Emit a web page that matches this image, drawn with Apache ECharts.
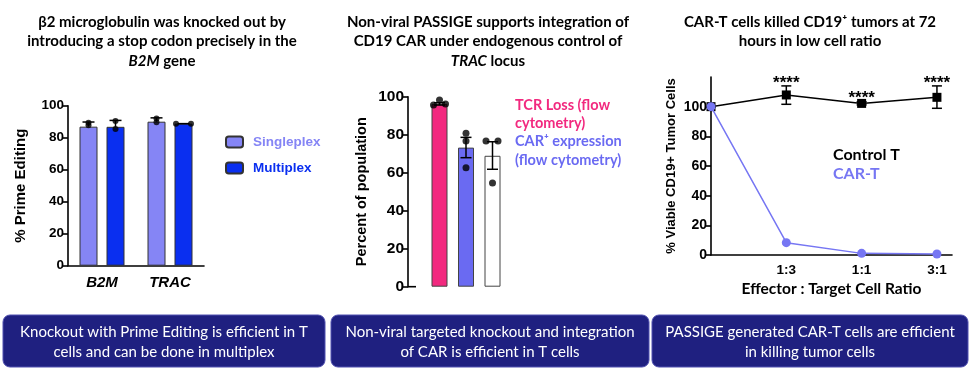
<!DOCTYPE html>
<html><head><meta charset="utf-8">
<script src="https://cdn.jsdelivr.net/npm/echarts@6/dist/echarts.min.js"></script>
<style>html,body{margin:0;padding:0;background:#fff}#c{width:975px;height:372px}</style>
</head><body><div id="c"></div>
<script>
// ---------- data ----------
const editCategories = ['B2M', 'TRAC'];
const singleplexMean = [86.9, 90.0];
const singleplexErrTop = [89.8, 92.4];
const singleplexPoints = [[89.3, 87.8], [92.0, 89.6]];
const multiplexMean = [86.8, 88.8];
const multiplexErrTop = [90.8, 88.8];
const multiplexPoints = [[90.5, 85.4], [88.7, 88.7]];

const popCategories = ['TCR Loss', 'CAR+ expression', 'Control'];
const popMean = [96.2, 73.2, 68.9];
const popErrLow = [95.6, 67.9, 61.8];
const popErrHigh = [96.8, 78.6, 76.3];
const popPoints = [[95.6, 98.3, 96.2], [80.7, 76.7, 62.6], [76.7, 76.7, 54.6]];

const ratioX = [0, 1, 2, 3];
const ratioLabels = ['', '1:3', '1:1', '3:1'];
const controlT = [100, 107.9, 102.2, 106.3];
const controlErrLow = [100, 101.6, 101.2, 98.9];
const controlErrHigh = [100, 114.0, 103.3, 114.0];
const carT = [100, 8.3, 1.1, 0.7];
const significance = ['', '****', '****', '****'];

// ---------- styling ----------
const AX = 'Liberation Sans';
const TF = 'Lato';
const cSingle = '#8585f5', cMulti = '#0a2ff0';
const cPink = '#f2297f', cBlue = '#6a6af2', cCar = '#7676f3';
const singleJitter = [[0, 0], [0, 0]];
const multiJitter = [[0, 0], [-7.5, 7.5]];
const popJitter = [[-6, 0, 6], [0, 0, 0], [-6.5, 5.5, 0]];

function yAxisStyle(fs) {
  return {
    axisLine: {show: true, lineStyle: {color: '#000', width: 1.6}},
    axisTick: {show: true, length: 5, lineStyle: {color: '#000', width: 1.6}},
    axisLabel: {color: '#000', fontWeight: 'bold', fontSize: fs, fontFamily: AX, margin: 4},
    splitLine: {show: false}
  };
}
function errRender(offsetPx, half, upperOnly) {
  return function (params, api) {
    const c = api.value(0);
    const pm = api.coord([c, api.value(1)]);
    const ph = api.coord([c, api.value(2)]);
    const pl = api.coord([c, api.value(3)]);
    const x = pm[0] + offsetPx;
    const st = {stroke: '#000', lineWidth: 1.5};
    const ch = [];
    const lowY = upperOnly ? pm[1] : pl[1];
    ch.push({type: 'line', shape: {x1: x, y1: lowY, x2: x, y2: ph[1]}, style: st});
    ch.push({type: 'line', shape: {x1: x - half, y1: ph[1], x2: x + half, y2: ph[1]}, style: st});
    if (!upperOnly) ch.push({type: 'line', shape: {x1: x - half, y1: pl[1], x2: x + half, y2: pl[1]}, style: st});
    return {type: 'group', children: ch};
  };
}
function pointsData(points, jitter) {
  const out = [];
  points.forEach((arr, i) => arr.forEach((v, j) => out.push({value: [i, v], symbolOffset: [jitter[i][j], 0]})));
  return out;
}

const chart = echarts.init(document.getElementById('c'), null, {renderer: 'canvas'});

const grids = [
  {left: 68, top: 105.7, width: 136, height: 160},
  {left: 426.25, top: 96.7, width: 79.5, height: 190},
  {left: 711, top: 77, width: 241, height: 178}
];

const titleRich = {i: {fontStyle: 'italic', fontWeight: 'bold', fontSize: 15, fontFamily: TF, fill: '#000'}};
function titleEl(x, y, text) {
  return {type: 'text', x: x, y: y, style: {text: text, fill: '#000', font: 'bold 15px ' + TF, align: 'center', verticalAlign: 'top', lineHeight: 19.5, rich: titleRich}};
}
function boxEl(x, w, text) {
  return {type: 'group', children: [
    {type: 'rect', shape: {x: x, y: 315, width: w, height: 52, r: 7}, style: {fill: '#1f2080', stroke: '#5050b0', lineWidth: 1}},
    {type: 'text', x: x + w / 2, y: 322, style: {text: text, fill: '#fff', font: '15px ' + TF, align: 'center', verticalAlign: 'top', lineHeight: 20}}
  ]};
}

const option = {
  animation: false,
  backgroundColor: '#fff',
  grid: grids,
  legend: [
    {data: [{name: 'Singleplex', textStyle: {color: cSingle}}, {name: 'Multiplex', textStyle: {color: cMulti}}],
     left: 220, top: 130, orient: 'vertical', itemWidth: 17, itemHeight: 11, itemGap: 12,
     textStyle: {fontWeight: 'bold', fontSize: 13.5, fontFamily: AX, padding: [0, 0, 0, 5]}},
    {data: [{name: 'Control T', textStyle: {color: '#000'}}, {name: 'CAR-T', textStyle: {color: cCar}}],
     left: 823, top: 142, orient: 'vertical', icon: 'none', itemWidth: 0, itemGap: 3,
     textStyle: {fontWeight: 'bold', fontSize: 16, fontFamily: TF}}
  ],
  xAxis: [
    {type: 'category', gridIndex: 0, data: editCategories,
     axisLine: {lineStyle: {color: '#000', width: 1.6}},
     axisTick: {alignWithLabel: true, length: 5, lineStyle: {color: '#000', width: 1.6}},
     axisLabel: {color: '#000', fontWeight: 'bold', fontStyle: 'italic', fontSize: 15, fontFamily: AX, margin: 10}},
    {type: 'category', gridIndex: 1, data: popCategories, axisLine: {show: false}, axisTick: {show: false}, axisLabel: {show: false}},
    {type: 'value', gridIndex: 2, min: 0, max: 3.2, interval: 1,
     axisLine: {lineStyle: {color: '#000', width: 1.6}}, axisTick: {show: false}, splitLine: {show: false},
     axisLabel: {color: '#000', fontWeight: 'bold', fontSize: 13.5, fontFamily: AX, margin: 8,
                 formatter: v => ratioLabels[Math.round(v)] || ''},
     name: 'Effector : Target Cell Ratio', nameLocation: 'middle', nameGap: 26,
     nameTextStyle: {color: '#000', fontWeight: 'bold', fontSize: 15.5, fontFamily: TF}}
  ],
  yAxis: [
    Object.assign({type: 'value', gridIndex: 0, min: 0, max: 100, interval: 20,
      name: '% Prime Editing', nameLocation: 'middle', nameGap: 40, nameRotate: 90,
      nameTextStyle: {color: '#000', fontWeight: 'bold', fontSize: 15, fontFamily: AX}}, yAxisStyle(13.5)),
    Object.assign({type: 'value', gridIndex: 1, min: 0, max: 100, interval: 20, offset: 18.25,
      name: 'Percent of population', nameLocation: 'middle', nameGap: 39, nameRotate: 90,
      nameTextStyle: {color: '#000', fontWeight: 'bold', fontSize: 14.5, fontFamily: AX}}, yAxisStyle(15.5)),
    (function () {
      const a = Object.assign({type: 'value', gridIndex: 2, min: 0, max: 120, interval: 20,
        name: '% Viable CD19+ Tumor Cells', nameLocation: 'middle', nameGap: 33, nameRotate: 90,
        nameTextStyle: {color: '#000', fontWeight: 'bold', fontSize: 13, fontFamily: AX}}, yAxisStyle(14));
      a.axisLabel.formatter = v => (v > 100 ? '' : String(v));
      a.axisTick.customValues = [0, 20, 40, 60, 80, 100];
      return a;
    })()
  ],
  series: [
    // panel 1
    {name: 'Singleplex', type: 'bar', xAxisIndex: 0, yAxisIndex: 0, data: singleplexMean, barWidth: 18, barGap: '50%',
     itemStyle: {color: cSingle, borderColor: '#333', borderWidth: 1}},
    {name: 'Multiplex', type: 'bar', xAxisIndex: 0, yAxisIndex: 0, data: multiplexMean, barWidth: 18, barGap: '50%',
     itemStyle: {color: cMulti, borderColor: '#333', borderWidth: 1}},
    {type: 'custom', xAxisIndex: 0, yAxisIndex: 0, z: 5, renderItem: errRender(-13.5, 6, true),
     data: singleplexMean.map((m, i) => [i, m, singleplexErrTop[i], m])},
    {type: 'custom', xAxisIndex: 0, yAxisIndex: 0, z: 5, renderItem: errRender(13.5, 6, true),
     data: multiplexMean.map((m, i) => [i, m, multiplexErrTop[i], m])},
    {type: 'scatter', xAxisIndex: 0, yAxisIndex: 0, z: 6, symbolSize: 6, itemStyle: {color: '#000'},
     data: pointsData(singleplexPoints, singleJitter.map(r => r.map(d => d - 13.5)))},
    {type: 'scatter', xAxisIndex: 0, yAxisIndex: 0, z: 6, symbolSize: 6, itemStyle: {color: '#000'},
     data: pointsData(multiplexPoints, multiJitter.map(r => r.map(d => d + 13.5)))},
    // panel 2
    {type: 'bar', xAxisIndex: 1, yAxisIndex: 1, barWidth: 16,
     data: popMean.map((v, i) => ({value: v, itemStyle: {color: [cPink, cBlue, '#ffffff'][i]}})),
     itemStyle: {borderColor: '#444', borderWidth: 1}},
    {type: 'custom', xAxisIndex: 1, yAxisIndex: 1, z: 5, renderItem: errRender(0, 5.5, false),
     data: popMean.map((m, i) => [i, m, popErrHigh[i], popErrLow[i]])},
    {type: 'scatter', xAxisIndex: 1, yAxisIndex: 1, z: 6, symbolSize: 7, itemStyle: {color: '#000'},
     data: pointsData(popPoints, popJitter)},
    // panel 3
    {name: 'Control T', type: 'line', xAxisIndex: 2, yAxisIndex: 2, z: 3,
     data: ratioX.map((x, i) => [x, controlT[i]]), symbol: 'rect', symbolSize: 9,
     lineStyle: {color: '#000', width: 1.5}, itemStyle: {color: '#000'}},
    {type: 'custom', xAxisIndex: 2, yAxisIndex: 2, z: 4,
     renderItem: function (params, api) {
       const g = errRender(0, 5, false)(params, api);
       const s = significance[params.dataIndex];
       if (s) {
         const ph = api.coord([api.value(0), api.value(2)]);
         g.children.push({type: 'text', x: ph[0], y: ph[1] - 3,
           style: {text: s, fill: '#000', font: 'bold 17px ' + AX, align: 'center', verticalAlign: 'middle'}});
       }
       return g;
     },
     data: ratioX.map((x, i) => [x, controlT[i], controlErrHigh[i], controlErrLow[i]])},
    {name: 'CAR-T', type: 'line', xAxisIndex: 2, yAxisIndex: 2, z: 5,
     data: ratioX.map((x, i) => [x, carT[i]]), symbol: 'circle', symbolSize: 9,
     lineStyle: {color: cCar, width: 1.5}, itemStyle: {color: cCar}}
  ],
  graphic: [
    titleEl(162, 12, 'β2 microglobulin was knocked out by\nintroducing a stop codon precisely in the\n{i|B2M} gene'),
    titleEl(488, 12, 'Non-viral PASSIGE supports integration of\nCD19 CAR under endogenous control of\n{i|TRAC} locus'),
    titleEl(810, 12, 'CAR-T cells killed CD19⁺ tumors at 72\nhours in low cell ratio'),
    {type: 'text', x: 515, y: 96, style: {text: '{p|TCR Loss (flow}\n{p|cytometry)}\n{b|CAR⁺ expression}\n{b|(flow cytometry)}',
      font: 'bold 14.5px ' + TF, lineHeight: 18.3, verticalAlign: 'top',
      rich: {p: {fill: cPink, fontWeight: 'bold', fontSize: 14.5, fontFamily: TF}, b: {fill: cBlue, fontWeight: 'bold', fontSize: 14.5, fontFamily: TF}}}},
    {type: 'line', shape: {x1: 408, y1: 286.7, x2: 416, y2: 286.7}, style: {stroke: '#000', lineWidth: 1.6}},
    boxEl(3, 322, 'Knockout with Prime Editing is efficient in T\ncells and can be done in multiplex'),
    boxEl(331, 318, 'Non-viral targeted knockout and integration\nof CAR is efficient in T cells'),
    boxEl(652, 316, 'PASSIGE generated CAR-T cells are efficient\nin killing tumor cells')
  ]
};
chart.setOption(option);
</script>
</body></html>
